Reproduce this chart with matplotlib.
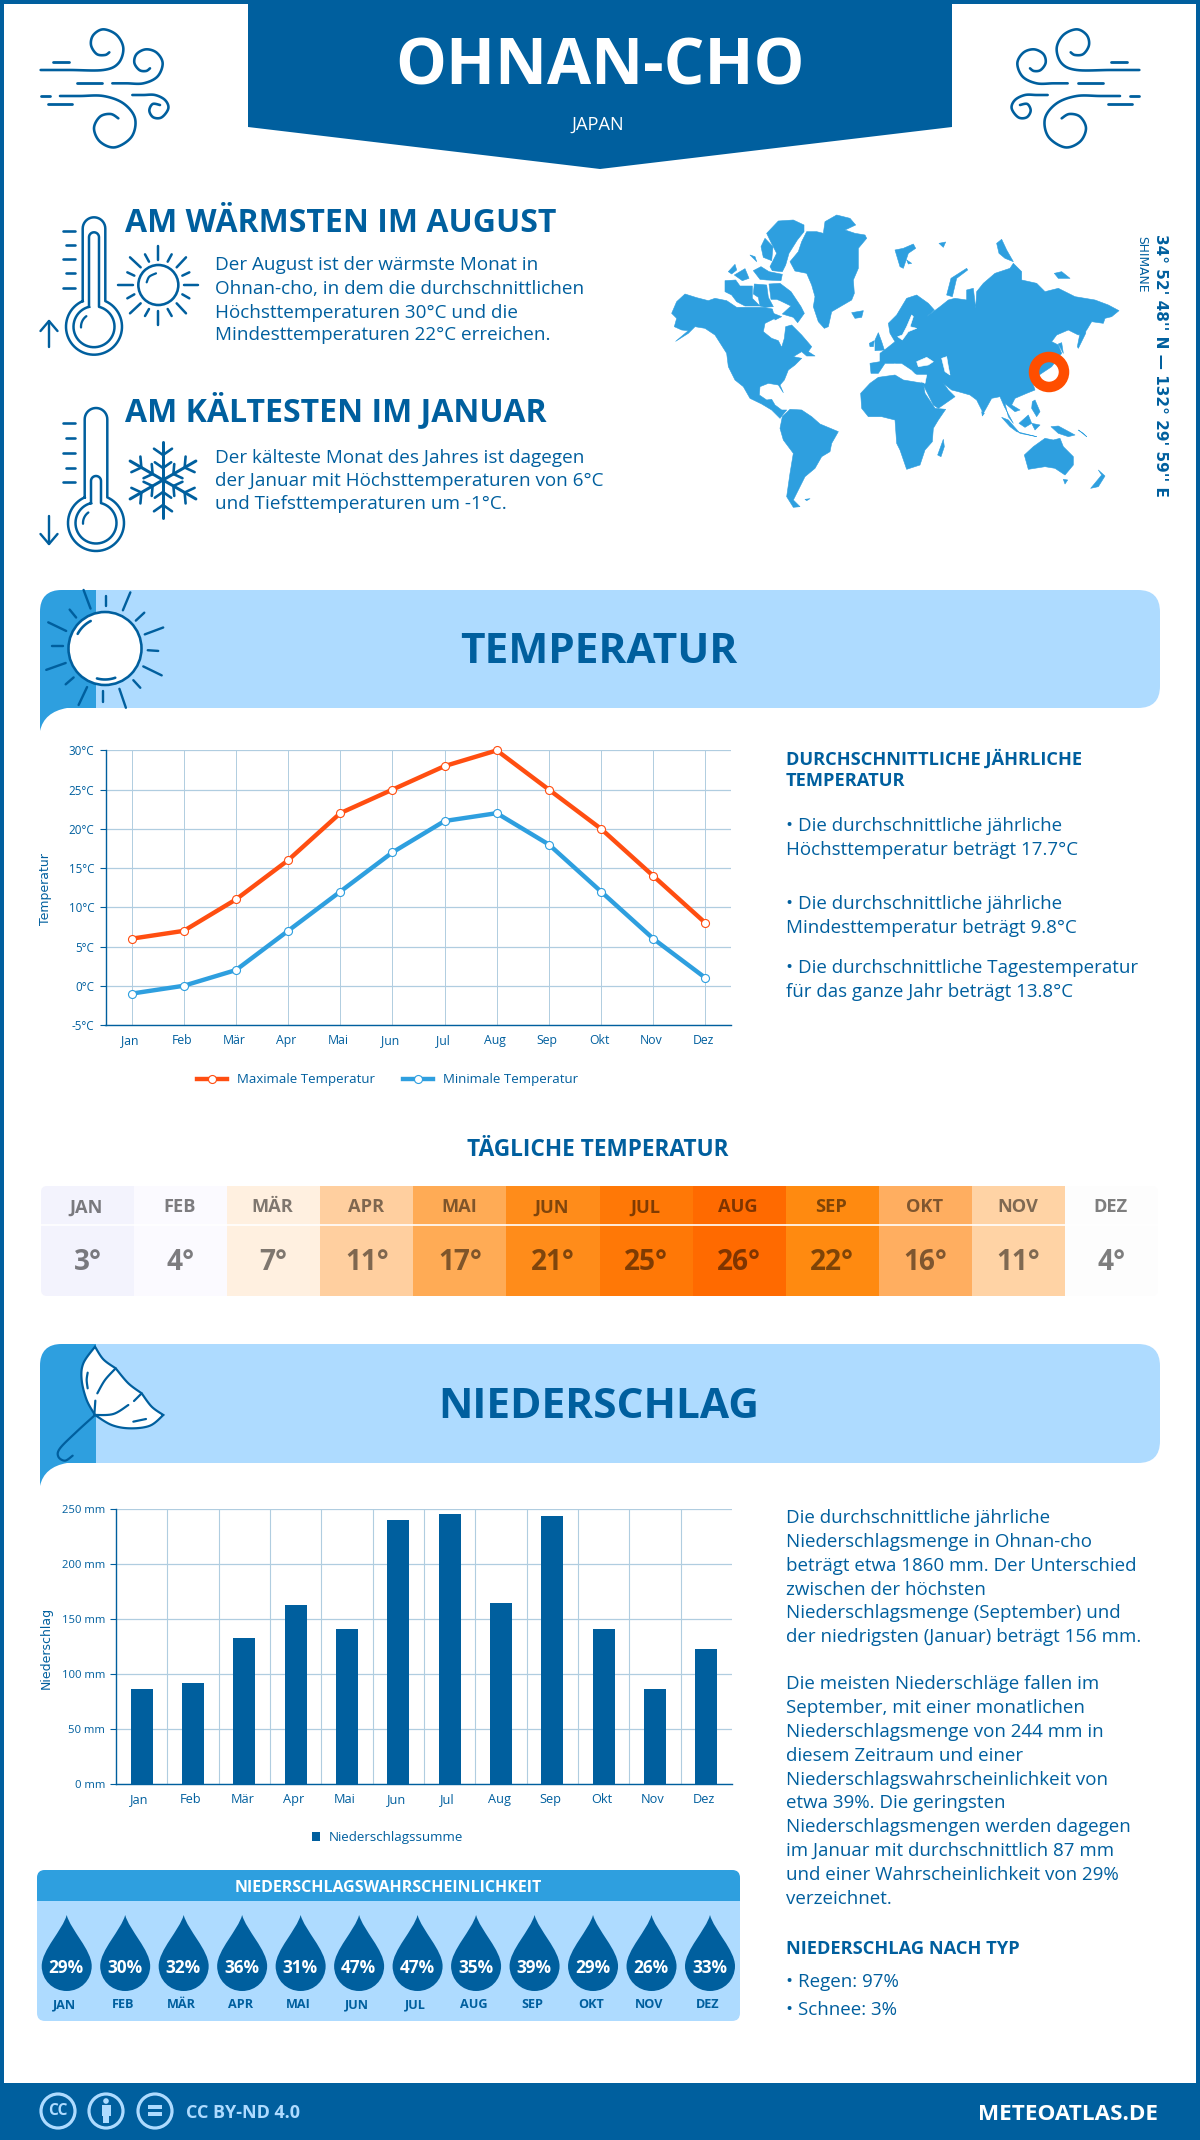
import numpy as np
import matplotlib
matplotlib.use("Agg")
import matplotlib.pyplot as plt
from matplotlib.patches import Rectangle, Circle, Polygon, FancyBboxPatch, PathPatch
from matplotlib.path import Path
from matplotlib.transforms import ScaledTranslation

plt.rcParams["font.family"] = ["Open Sans", "DejaVu Sans"]

W, H = 1200, 2140

BLUE = "#005f9e"
MID = "#2e9fdf"
LIGHT = "#aedbff"
ORANGE = "#ff4e11"
GRID = "#b0cde0"

MONTHS = ["Jan", "Feb", "Mär", "Apr", "Mai", "Jun", "Jul", "Aug", "Sep", "Okt", "Nov", "Dez"]
MONTHS_UP = ["JAN", "FEB", "MÄR", "APR", "MAI", "JUN", "JUL", "AUG", "SEP", "OKT", "NOV", "DEZ"]
TEMP_MAX = [6, 7, 11, 16, 22, 25, 28, 30, 25, 20, 14, 8]
TEMP_MIN = [-1, 0, 2, 7, 12, 17, 21, 22, 18, 12, 6, 1]
DAILY_TEMP = [3, 4, 7, 11, 17, 21, 25, 26, 22, 16, 11, 4]
DAILY_COLORS = ["#f3f3fd", "#fbfaff", "#fff0e0", "#ffcf9f", "#ffab55", "#ff8c1a",
                "#ff7806", "#ff6a00", "#ff8a10", "#ffae60", "#ffd3a5", "#fdfdfd"]
RAIN = [87, 92, 133, 163, 141, 240, 246, 165, 244, 141, 87, 123]
RAIN_PROB = [29, 30, 32, 36, 31, 47, 47, 35, 39, 29, 26, 33]

TEXT_WARM = ["Der August ist der wärmste Monat in",
             "Ohnan-cho, in dem die durchschnittlichen",
             "Höchsttemperaturen 30°C und die",
             "Mindesttemperaturen 22°C erreichen."]
TEXT_COLD = ["Der kälteste Monat des Jahres ist dagegen",
             "der Januar mit Höchsttemperaturen von 6°C",
             "und Tiefsttemperaturen um -1°C."]
TEXT_TEMP = [(826, "• Die durchschnittliche jährliche"),
             (850, "Höchsttemperatur beträgt 17.7°C"),
             (904, "• Die durchschnittliche jährliche"),
             (928, "Mindesttemperatur beträgt 9.8°C"),
             (968, "• Die durchschnittliche Tagestemperatur"),
             (992, "für das ganze Jahr beträgt 13.8°C")]
TEXT_RAIN = [(1518, "Die durchschnittliche jährliche"),
             (1542, "Niederschlagsmenge in Ohnan-cho"),
             (1566, "beträgt etwa 1860 mm. Der Unterschied"),
             (1590, "zwischen der höchsten"),
             (1613, "Niederschlagsmenge (September) und"),
             (1637, "der niedrigsten (Januar) beträgt 156 mm."),
             (1684, "Die meisten Niederschläge fallen im"),
             (1708, "September, mit einer monatlichen"),
             (1732, "Niederschlagsmenge von 244 mm in"),
             (1756, "diesem Zeitraum und einer"),
             (1780, "Niederschlagswahrscheinlichkeit von"),
             (1803, "etwa 39%. Die geringsten"),
             (1827, "Niederschlagsmengen werden dagegen"),
             (1851, "im Januar mit durchschnittlich 87 mm"),
             (1875, "und einer Wahrscheinlichkeit von 29%"),
             (1899, "verzeichnet."),
             (1982, "• Regen: 97%"),
             (2010, "• Schnee: 3%")]

fig = plt.figure(figsize=(W / 100, H / 100), dpi=100, facecolor="white")
bg = fig.add_axes([0, 0, 1, 1])
bg.set_xlim(0, W)
bg.set_ylim(H, 0)
bg.axis("off")


def px(size):
    return size * 0.72


def txt(x, y, s, size, weight="normal", color=BLUE, ha="left", va="center", **kw):
    return bg.text(x, y, s, fontsize=px(size), fontweight=weight, color=color, ha=ha, va=va, **kw)


def smooth(pts, n=10):
    # catmull-rom through the given points, only used for the icons
    p = np.array(pts, dtype=float)
    p = np.vstack([p[0], p, p[-1]])
    out = []
    for i in range(1, len(p) - 2):
        for t in np.linspace(0, 1, n, endpoint=False):
            a = 2 * p[i] + (p[i + 1] - p[i - 1]) * t
            b = (2 * p[i - 1] - 5 * p[i] + 4 * p[i + 1] - p[i + 2]) * t ** 2
            c = (3 * p[i] - p[i - 1] - 3 * p[i + 1] + p[i + 2]) * t ** 3
            out.append(0.5 * (a + b + c))
    out.append(p[-2])
    return np.array(out)


def icon_line(pts, x0, y0, lw=2.6, mirror=None, zorder=3, round_it=True, scale=3.0):
    c = smooth(pts) if round_it else np.array(pts, dtype=float)
    xs = x0 + c[:, 0] / scale
    ys = y0 + c[:, 1] / scale
    if mirror is not None:
        xs = mirror - xs
    bg.plot(xs, ys, color=BLUE, lw=px(lw), solid_capstyle="round", zorder=zorder)


# frame and header
bg.add_patch(Rectangle((0, 0), W, 4, color=BLUE, lw=0))
bg.add_patch(Rectangle((0, 0), 4, H, color=BLUE, lw=0))
bg.add_patch(Rectangle((W - 4, 0), 4, H, color=BLUE, lw=0))
bg.add_patch(Polygon([(248, 0), (952, 0), (952, 127), (600, 169), (248, 127)], color=BLUE, lw=0))
txt(600, 68, "OHNAN-CHO", 64, "bold", "white", ha="center")
txt(598, 125, "JAPAN", 18.3, color="white", ha="center")

WIND_CURVES = [
    [(62, 150), (150, 150), (250, 150), (295, 130), (310, 85), (290, 45), (250, 28), (220, 45), (213, 75), (230, 102), (255, 105), (268, 97)],
    [(277, 190), (320, 190), (370, 190), (412, 170), (428, 130), (410, 98), (378, 88), (350, 102), (343, 128), (358, 150), (378, 153), (390, 145)],
    [(120, 228), (180, 228), (250, 228), (310, 250), (345, 295), (335, 350), (285, 382), (240, 365), (222, 325), (240, 290), (272, 282), (295, 295)],
    [(337, 225), (370, 225), (405, 225), (435, 240), (445, 265), (425, 292), (400, 292), (388, 272), (398, 252), (420, 255)],
]
WIND_DASHES = [(100, 148, 125), (170, 245, 190), (62, 90, 228), (85, 155, 253)]


def wind(mirror=None):
    for c in WIND_CURVES:
        icon_line(c, 20, 20, mirror=mirror)
    for x1, x2, y in WIND_DASHES:
        icon_line([(x1, y), (x2, y)], 20, 20, mirror=mirror, lw=2.8, round_it=False)


wind()
wind(mirror=1180)

# warm / cold blocks
txt(125, 224, "AM WÄRMSTEN IM AUGUST", 32, "bold")
txt(125, 411, "AM KÄLTESTEN IM JANUAR", 32, "bold")
for y, line in zip([264.5, 288.5, 312.5, 335.5], TEXT_WARM):
    txt(215, y, line, 18.9)
for y, line in zip([458, 481, 504], TEXT_COLD):
    txt(215, y, line, 18.9)


def thermometer(top, cy, fill_top, cx, ticks, up):
    r, hw = 28, 11.3
    a = np.arcsin(hw / r)
    th = np.linspace(-np.pi / 2 + a, 1.5 * np.pi - a, 60)
    cap = np.linspace(np.pi, 0, 20)
    xs = np.r_[cx - hw, cx + hw * np.cos(cap), cx + r * np.cos(th)]
    ys = np.r_[cy - r * np.cos(a), top + hw - hw * np.sin(cap), cy + r * np.sin(th)]
    bg.plot(xs, ys, color=BLUE, lw=px(2.5))
    hi, r2 = 5, 20.5
    a2 = np.arcsin(hi / r2)
    th = np.linspace(-np.pi / 2 + a2, 1.5 * np.pi - a2, 50)
    xs = np.r_[cx - hi, cx + hi * np.cos(cap), cx + r2 * np.cos(th)]
    ys = np.r_[cy - r2 * np.cos(a2), fill_top + hi - hi * np.sin(cap), cy + r2 * np.sin(th)]
    bg.plot(xs, ys, color=BLUE, lw=px(2.5))
    t = np.linspace(2.2, 3.2, 12)
    bg.plot(cx + 13 * np.cos(t), cy - 13 * np.sin(t), color=BLUE, lw=px(2.3), solid_capstyle="round")
    for i, y in enumerate(ticks):
        xa = 62.5 if i % 2 == 0 else 66
        bg.plot([xa, 75], [y, y], color=BLUE, lw=px(2.6), solid_capstyle="round")
    a1, a2, d = (347, 321, 10) if up else (516, 544, -10)
    bg.plot([49, 49], [a1, a2], color=BLUE, lw=px(2.4), solid_capstyle="round")
    bg.plot([40.5, 49, 57.5], [a2 + d, a2, a2 + d], color=BLUE, lw=px(2.4), solid_capstyle="round")


thermometer(217.3, 326.7, 232.3, 94, [231, 245, 259, 273, 288], True)
thermometer(408, 523, 476, 96, [423, 438, 453, 468, 482], False)

# small sun
SMALL_SUN_RAYS = [(265, 240, 308, 240), (462, 240, 505, 240), (385, 122, 385, 165), (385, 318, 385, 360),
                  (300, 157, 332, 187), (468, 157, 440, 187), (300, 325, 332, 295), (468, 325, 440, 295),
                  (345, 148, 357, 170), (425, 148, 413, 170), (292, 202, 313, 212), (478, 202, 457, 212),
                  (292, 280, 313, 268), (478, 280, 457, 268), (345, 333, 357, 312), (425, 333, 413, 312)]
bg.add_patch(Circle((30 + 385 / 3, 205 + 240 / 3), 20, fill=False, ec=BLUE, lw=px(2.6)))
icon_line([(350, 232), (358, 215), (378, 205)], 30, 205, lw=2.2)
for x1, y1, x2, y2 in SMALL_SUN_RAYS:
    icon_line([(x1, y1), (x2, y2)], 30, 205, lw=2.5, round_it=False)

# snowflake
for ang in np.arange(0, 360, 60) + 30:
    c, s = np.cos(np.radians(ang)), np.sin(np.radians(ang))
    bg.plot([163, 163 + 38 * c], [480, 480 + 38 * s], color=BLUE, lw=px(3), solid_capstyle="round")
    for d, l in [(12, 10), (25, 11)]:
        for off in (-55, 55):
            c2, s2 = np.cos(np.radians(ang + off)), np.sin(np.radians(ang + off))
            bg.plot([163 + d * c, 163 + d * c + l * c2], [480 + d * s, 480 + d * s + l * s2],
                    color=BLUE, lw=px(2.6), solid_capstyle="round")

# world map, outlines traced by eye from crops of the reference
LAND_WEST = [
    [(20, 310), (35, 275), (60, 252), (95, 263), (130, 272), (150, 265), (185, 272), (215, 292), (250, 292), (295, 292),
     (322, 297), (330, 325), (300, 340), (295, 365), (320, 385), (340, 392), (350, 412), (358, 385), (362, 350), (380, 345),
     (410, 375), (440, 410), (430, 425), (450, 438), (425, 438), (410, 425), (385, 440), (410, 445), (390, 465), (370, 480),
     (358, 510), (345, 525), (355, 548), (340, 525), (310, 520), (285, 530), (283, 555), (305, 570), (320, 568), (330, 585),
     (350, 600), (365, 600), (345, 625), (320, 600), (290, 582), (255, 565), (235, 530), (210, 510), (190, 470), (185, 430),
     (150, 375), (120, 355), (90, 350), (70, 370), (32, 394), (70, 362), (50, 360), (28, 350), (35, 325)],
    [(305, 70), (340, 33), (385, 30), (417, 45), (417, 65), (397, 90), (372, 130), (362, 165), (352, 185), (322, 182),
     (315, 170), (335, 130), (317, 95)],
    [(288, 110), (300, 85), (324, 110), (320, 152), (295, 142)],
    [(190, 185), (210, 163), (215, 180), (200, 192)],
    [(180, 212), (212, 210), (225, 228), (262, 228), (262, 265), (285, 288), (240, 288), (215, 275), (200, 255), (180, 245)],
    [(208, 195), (240, 176), (252, 205), (232, 212)],
    [(265, 182), (288, 170), (312, 185), (352, 193), (348, 212), (305, 210), (285, 208)],
    [(255, 135), (270, 140), (275, 155)],
    [(268, 222), (305, 225), (310, 262), (325, 290), (300, 292), (285, 288), (280, 262), (265, 252)],
    [(312, 222), (345, 220), (378, 245), (408, 290), (418, 310), (398, 338), (385, 322), (352, 312), (378, 288), (345, 272),
     (335, 268), (318, 268)],
    [(325, 310), (350, 320), (330, 330)],
    [(375, 155), (400, 125), (410, 95), (425, 65), (455, 65), (475, 70), (480, 35), (515, 15), (555, 25), (572, 45), (540, 60),
     (570, 70), (600, 75), (605, 85), (580, 115), (580, 175), (565, 210), (568, 250), (560, 270), (500, 305), (490, 350),
     (478, 355), (460, 335), (445, 290), (450, 260), (440, 225), (425, 190), (390, 183)],
]
LAND_EAST = [
    [(75, 430), (105, 425), (105, 400), (125, 385), (150, 365), (135, 340), (130, 310), (155, 285), (185, 235), (215, 225),
     (250, 250), (268, 270), (245, 290), (285, 260), (310, 240), (330, 235), (365, 240), (365, 210), (385, 205), (392, 265),
     (395, 215), (415, 190), (450, 160), (495, 145), (505, 130), (530, 155), (530, 180), (575, 190), (600, 215), (640, 205),
     (690, 230), (750, 240), (790, 255), (822, 272), (800, 290), (780, 295), (775, 310), (740, 305), (725, 330), (700, 345),
     (670, 330), (635, 345), (620, 365), (640, 375), (650, 400), (620, 440), (560, 480), (570, 510), (545, 520), (510, 535),
     (500, 555), (525, 570), (510, 575), (480, 550), (490, 590), (505, 610), (478, 560), (465, 530), (440, 535), (415, 580),
     (395, 540), (375, 525), (340, 515), (320, 510), (295, 490), (310, 510), (330, 530), (280, 565), (265, 555), (235, 495),
     (220, 470), (200, 450), (170, 430), (120, 430), (100, 460), (78, 460)],
    [(150, 90), (175, 85), (205, 72), (212, 85), (190, 100), (175, 145), (165, 140)],
    [(185, 120), (200, 130), (190, 132)],
    [(282, 70), (302, 66), (295, 82)],
    [(305, 225), (318, 175), (365, 145), (368, 150), (335, 175), (322, 230)],
    [(455, 70), (470, 58), (485, 90), (505, 125), (480, 115), (462, 100)],
    [(628, 160), (650, 155), (675, 175), (640, 175)],
    [(90, 360), (100, 338), (110, 365), (118, 390), (90, 392)],
    [(73, 370), (88, 362), (85, 380), (75, 380)],
    [(20, 278), (55, 272), (50, 292), (30, 295)],
    [(697, 380), (705, 340), (725, 310), (722, 340), (700, 385)],
    [(640, 372), (650, 368), (655, 400)],
    [(562, 545), (570, 540), (585, 575), (575, 590), (560, 565)],
    [(522, 610), (550, 585), (560, 610), (540, 622)],
    [(470, 592), (490, 600), (525, 640), (565, 648), (575, 650), (515, 635), (495, 620)],
    [(560, 610), (585, 615), (570, 630)],
    [(618, 620), (640, 618), (690, 645), (670, 650), (640, 640)],
    [(700, 630), (725, 650), (715, 640)],
    [(410, 575), (418, 580), (412, 588)],
    [(538, 705), (565, 680), (600, 655), (625, 660), (645, 655), (655, 680), (685, 710), (685, 735), (660, 765), (630, 745),
     (600, 740), (550, 748)],
    [(655, 778), (668, 780), (660, 792)],
    [(737, 805), (770, 765), (760, 750), (780, 768), (760, 800)],
    [(278, 705), (295, 658), (298, 680), (288, 710)],
]
SEA_EAST = [
    [(105, 462), (125, 440), (150, 432), (175, 450), (195, 460), (215, 465), (245, 465), (240, 490), (215, 480), (170, 480), (130, 465)],
    [(215, 425), (245, 412), (265, 425), (250, 435), (220, 440)],
    [(290, 415), (305, 410), (310, 440), (315, 465), (300, 455)],
    [(185, 320), (200, 285), (205, 290), (195, 320), (215, 325), (190, 335), (172, 360), (158, 350), (172, 345)],
]
AFRICA = [(47, 520), (75, 490), (100, 472), (150, 465), (175, 480), (235, 490), (240, 520), (270, 565), (302, 568), (280, 600),
          (265, 625), (262, 665), (240, 690), (225, 735), (185, 748), (165, 690), (155, 670), (150, 600), (110, 590), (70, 590), (50, 565)]
SOUTH_AMERICA = [(345, 85), (352, 50), (375, 28), (410, 30), (440, 50), (465, 72), (520, 95), (500, 130), (495, 155), (470, 170),
                 (450, 205), (420, 230), (400, 270), (385, 300), (405, 320), (385, 322), (365, 290), (375, 220), (385, 160), (355, 120)]
TIERRA = [(420, 298), (435, 296), (425, 302)]


def land(pts, x0, y0, color=MID):
    bg.add_patch(Polygon([(x0 + x / 3, y0 + y / 3) for x, y in pts], closed=True, fc=color, ec=color, lw=0.4,
                         joinstyle="round", zorder=2))


for pts in LAND_WEST:
    land(pts, 665, 210)
for pts in LAND_EAST:
    land(pts, 845, 220)
for pts in SEA_EAST:
    land(pts, 845, 220, "white")
land(AFRICA, 845, 220)
land(SOUTH_AMERICA, 665, 400)
land(TIERRA, 665, 400)
bg.add_patch(Circle((1049, 372), 15, fill=False, ec="#ff4e00", lw=px(10.5), zorder=4))
txt(1160, 365, "34° 52' 48'' N — 132° 29' 59'' E", 15.3, "bold", rotation=-90, ha="center", family="DejaVu Sans")
txt(1142, 236, "SHIMANE", 12.3, rotation=-90, ha="center", va="top", family="DejaVu Sans")


def band(y0, y1, title):
    p = FancyBboxPatch((40, y0), 1120, y1 - y0, boxstyle="round,pad=0,rounding_size=22", fc=LIGHT, ec="none", zorder=1)
    bg.add_patch(p)
    d = Rectangle((40, y0), 56, y1 - y0, color=MID, lw=0, zorder=1.1)
    bg.add_patch(d)
    d.set_clip_path(FancyBboxPatch((40, y0), 120, y1 - y0 + 30, boxstyle="round,pad=0,rounding_size=22", transform=bg.transData))
    # little tail under the dark block
    verts = [(40, y1 - 24), (40, y1 + 23), (44, y1 + 4), (67, y1), (96, y1), (96, y1 - 24), (40, y1 - 24)]
    codes = [Path.MOVETO, Path.LINETO, Path.CURVE3, Path.CURVE3, Path.LINETO, Path.LINETO, Path.CLOSEPOLY]
    bg.add_patch(PathPatch(Path(verts, codes), fc=MID, ec="none", zorder=1.1))
    txt(598.5, (y0 + y1) / 2 + 3.5, title, 42.4, "bold", ha="center", zorder=3)


band(590, 708, "TEMPERATUR")
band(1344, 1463, "NIEDERSCHLAG")

# header sun, coordinates from the zoomed crop (2.01 wide, 2.904 high)
SUN_RAYS = [(168, 58, 182, 112), (214, 75, 214, 105), (262, 65, 247, 117), (290, 124, 273, 147), (328, 167, 291, 187),
            (297, 233, 318, 235), (288, 280, 325, 306), (268, 320, 282, 342), (240, 345, 253, 400), (207, 350, 207, 382),
            (175, 340, 158, 392), (148, 312, 132, 332), (132, 270, 93, 290), (105, 222, 127, 222), (133, 177, 97, 152),
            (153, 138, 140, 115)]
for x1, y1, x2, y2 in SUN_RAYS:
    bg.plot([x1 / 2.01, x2 / 2.01], [570 + y1 / 2.904, 570 + y2 / 2.904], color=BLUE, lw=px(2.4), zorder=3, solid_capstyle="round")
bg.add_patch(Circle((105, 648.5), 36.5, fc="white", ec=BLUE, lw=px(2.6), zorder=3))
t = np.linspace(2.05, 2.65, 12)
bg.plot(105 + 31 * np.cos(t), 648.5 - 31 * np.sin(t), color=BLUE, lw=px(2.6), zorder=4, solid_capstyle="round")
t = np.linspace(4.45, 5.05, 12)
bg.plot(105 + 31 * np.cos(t), 648.5 - 31 * np.sin(t), color=BLUE, lw=px(2.6), zorder=4, solid_capstyle="round")

# umbrella
canopy = np.vstack([smooth([(165, 20), (190, 58), (227, 85)])[:-1],
                    smooth([(227, 85), (265, 130), (305, 160)])[:-1],
                    smooth([(305, 160), (335, 200), (370, 225)])[:-1],
                    smooth([(370, 225), (330, 257), (270, 265), (215, 255), (165, 225)])[:-1],
                    smooth([(165, 225), (140, 180), (125, 120), (130, 70), (165, 20)])])
bg.add_patch(Polygon(np.c_[40 + canopy[:, 0] / 3, 1340 + canopy[:, 1] / 3], fc="white", ec=BLUE, lw=px(2.2), zorder=3))
for c in ([(227, 85), (195, 120), (172, 160)], [(166, 182), (163, 225)], [(165, 225), (220, 222), (265, 195)],
          [(282, 183), (305, 160)], [(143, 98), (140, 120), (143, 145)], [(280, 245), (318, 237)],
          [(165, 225), (110, 275), (60, 325), (55, 350), (75, 362), (98, 347)]):
    icon_line(c, 40, 1340, lw=2.2, zorder=4)

# right side text
txt(786, 758.5, "DURCHSCHNITTLICHE JÄHRLICHE", 18.3, "bold")
txt(786, 781.5, "TEMPERATUR", 18.3, "bold")
for y, line in TEXT_TEMP:
    txt(786, y, line, 18.8)
for y, line in TEXT_RAIN:
    txt(786, y, line, 18.8)
txt(786, 1949, "NIEDERSCHLAG NACH TYP", 18.3, "bold")


def chart_axes(x0, x1, y_top, y_bottom, xsize, ysize):
    ax = fig.add_axes([x0 / W, 1 - y_bottom / H, (x1 - x0) / W, (y_bottom - y_top) / H])
    ax.patch.set_alpha(0)
    for s in ("top", "right"):
        ax.spines[s].set_visible(False)
    for s in ("left", "bottom"):
        ax.spines[s].set_color(BLUE)
        ax.spines[s].set_linewidth(1.0)
    ax.set_xlim(-0.5, 11.5)
    ax.set_xticks(range(12))
    ax.set_xticklabels(MONTHS)
    ax.tick_params(axis="y", colors=BLUE, labelsize=px(ysize), length=4, width=0.8, pad=4)
    ax.tick_params(axis="x", colors=BLUE, labelsize=px(xsize), length=0, pad=6.5)
    shift = ScaledTranslation(-2 / 100, 0, fig.dpi_scale_trans)
    for lab in ax.get_xticklabels():
        lab.set_transform(lab.get_transform() + shift)
    ax.grid(axis="y", color=GRID, lw=0.9)
    ax.set_axisbelow(True)
    return ax


# temperature chart
ax1 = chart_axes(105.5, 731.5, 750.4, 1025, 12.3, 11.6)
ax1.set_ylim(-5, 30)
ax1.set_yticks(range(-5, 31, 5))
ax1.set_yticklabels([f"{v}°C" for v in range(-5, 31, 5)])
ax1.grid(axis="x", color=GRID, lw=0.7)
ax1.plot(range(12), TEMP_MAX, color=ORANGE, lw=px(4.4), marker="o", ms=px(8), mfc="white", mec=ORANGE, mew=0.8,
         label="Maximale Temperatur", clip_on=False, zorder=3)
ax1.plot(range(12), TEMP_MIN, color=MID, lw=px(4.4), marker="o", ms=px(8), mfc="white", mec=MID, mew=0.8,
         label="Minimale Temperatur", clip_on=False, zorder=3)
txt(46, 889, "Temperatur", 12.5, rotation=90, ha="center", family="DejaVu Sans")
ax1.legend(loc="center", bbox_to_anchor=(0.4505, -0.2), ncol=2, frameon=False, fontsize=px(13.3),
           labelcolor=BLUE, handlelength=2.25, handletextpad=0.75, columnspacing=2.1, borderpad=0)

# daily temperature strip
txt(598, 1149.5, "TÄGLICHE TEMPERATUR", 22.6, "bold", ha="center")
clip = FancyBboxPatch((41, 1186), 1117, 110, boxstyle="round,pad=0,rounding_size=6", transform=bg.transData)
cell = (1158 - 41) / 12
for i, (m, v, col) in enumerate(zip(MONTHS_UP, DAILY_TEMP, DAILY_COLORS)):
    r = Rectangle((41 + i * cell, 1186), cell + 0.5, 110, color=col, lw=0, zorder=1)
    bg.add_patch(r)
    r.set_clip_path(clip)
    cx = 41 + (i + 0.5) * cell
    txt(cx - 1, 1207.5, m, 18.3, "bold", color="black", ha="center", alpha=0.5, zorder=2)
    txt(cx, 1263, f"{v}°", 28, "bold", color="black", ha="center", alpha=0.5, zorder=2)
bg.plot([41, 1158], [1225, 1225], color="white", lw=1.2, zorder=1.5)

# precipitation chart
ax2 = chart_axes(116, 732, 1509.3, 1784.3, 12.8, 11.3)
ax2.set_ylim(0, 250)
ax2.set_yticks(range(0, 251, 50))
ax2.set_yticklabels([f"{v} mm" for v in range(0, 251, 50)])
for b in np.arange(0.5, 11, 1):
    ax2.axvline(b, color=GRID, lw=0.8, zorder=0.5)
ax2.bar(range(12), RAIN, width=0.43, color=BLUE, label="Niederschlagssumme", zorder=3)
txt(46, 1648, "Niederschlag", 12.5, rotation=90, ha="center", family="DejaVu Sans")
ax2.legend(loc="center", bbox_to_anchor=(0.4406, -0.195), frameon=False, fontsize=px(13.4), labelcolor=BLUE,
           handlelength=0.62, handleheight=0.62, handletextpad=0.62, borderpad=0)

# precipitation probability panel
panel = FancyBboxPatch((37, 1870), 703, 151, boxstyle="round,pad=0,rounding_size=8", fc=LIGHT, ec="none", zorder=1)
bg.add_patch(panel)
head = Rectangle((37, 1870), 703, 31, color=MID, lw=0, zorder=1.1)
bg.add_patch(head)
head.set_clip_path(panel)
txt(388, 1888, "NIEDERSCHLAGSWAHRSCHEINLICHKEIT", 16, "bold", "white", ha="center", zorder=3)
drop_step = (710 - 66.7) / 11
for i, (m, p) in enumerate(zip(MONTHS_UP, RAIN_PROB)):
    cx = 66.7 + i * drop_step
    v = [(cx, 1915), (cx + 4, 1930), (cx + 25, 1950), (cx + 25, 1966), (cx + 25, 1980), (cx + 14, 1991), (cx, 1991),
         (cx - 14, 1991), (cx - 25, 1980), (cx - 25, 1966), (cx - 25, 1950), (cx - 4, 1930), (cx, 1915)]
    codes = [Path.MOVETO] + [Path.CURVE4] * 12
    bg.add_patch(PathPatch(Path(v, codes), fc=BLUE, ec="none", zorder=2))
    txt(cx - 0.5, 1968, f"{p}%", 17.3, "bold", "white", ha="center", zorder=3)
    txt(cx - 2, 2005, m, 12.6, "bold", ha="center", zorder=3)

# footer
bg.add_patch(Rectangle((0, 2083), W, 57, color=BLUE, lw=0, zorder=1))
for cx in (58, 106, 155):
    bg.add_patch(Circle((cx, 2111), 17, fill=False, ec=LIGHT, lw=px(3.2), zorder=2))
txt(58, 2111, "CC", 15.5, "bold", LIGHT, ha="center", zorder=3)
bg.add_patch(Circle((106, 2101), 2.8, color=LIGHT, lw=0, zorder=3))
bg.add_patch(Rectangle((101.5, 2105), 9, 11, color=LIGHT, lw=0, zorder=3))
bg.add_patch(Rectangle((103, 2114), 6, 9, color=LIGHT, lw=0, zorder=3))
bg.add_patch(Rectangle((148, 2105), 14, 3.5, color=LIGHT, lw=0, zorder=3))
bg.add_patch(Rectangle((148, 2112), 14, 3.5, color=LIGHT, lw=0, zorder=3))
txt(186, 2113, "CC BY-ND 4.0", 18, "bold", LIGHT, zorder=3)
txt(1158, 2114, "METEOATLAS.DE", 22.5, "bold", "white", ha="right", zorder=3)

fig.savefig("out.png", dpi=100, facecolor="white")
